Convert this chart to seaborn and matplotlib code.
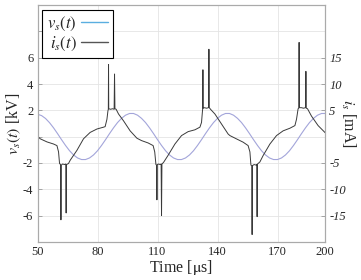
import numpy as np
import pandas as pd
import matplotlib
matplotlib.use("Agg")
import matplotlib.pyplot as plt
from matplotlib.lines import Line2D
import seaborn as sns

# Voltage v_s(t) [kV], sampled every 2 us
volt_time = [50, 52, 54, 56, 58, 60, 62, 64, 66, 68, 70, 72, 74, 76, 78, 80, 82, 84, 86, 88,
             90, 92, 94, 96, 98, 100, 102, 104, 106, 108, 110, 112, 114, 116, 118, 120, 122, 124,
             126, 128, 130, 132, 134, 136, 138, 140, 142, 144, 146, 148, 150, 152, 154, 156, 158,
             160, 162, 164, 166, 168, 170, 172, 174, 176, 178, 180, 182, 184, 186, 188, 190, 192, 194]
volt_kv = [1.70, 1.60, 1.38, 1.06, 0.67, 0.23, -0.23, -0.67, -1.07, -1.39, -1.62, -1.74,
           -1.74, -1.62, -1.39, -1.07, -0.67, -0.23, 0.23, 0.67, 1.07, 1.39, 1.63, 1.76,
           1.76, 1.63, 1.39, 1.07, 0.67, 0.23, -0.23, -0.67, -1.07, -1.39, -1.62, -1.74,
           -1.74, -1.62, -1.39, -1.07, -0.67, -0.23, 0.23, 0.67, 1.07, 1.39, 1.63, 1.76,
           1.76, 1.63, 1.39, 1.07, 0.67, 0.23, -0.23, -0.67, -1.07, -1.39, -1.62, -1.74,
           -1.74, -1.62, -1.39, -1.07, -0.67, -0.23, 0.23, 0.67, 1.07, 1.39, 1.63, 1.76, 1.76]

# Current i_s(t) [mA]
curr_time = [50, 51.3, 54.7, 58, 59.7, 60.5, 61.0, 61.5, 61.7, 61.9, 62.5, 63.5, 64.1, 64.3, 64.5,
             65.5, 66.3, 69.7, 73, 76.3, 79.7, 83, 83.8, 84.7, 85.2, 85.4, 85.5, 85.6, 86.5, 87.5,
             88.3, 88.5, 88.7, 89.3, 90.5, 93, 96.3, 99.7,
             102, 105.3, 107.8, 108.6, 109.2, 109.5, 109.7, 109.9, 110.5, 111.3, 111.8, 112.0, 112.2,
             113, 115.2, 118.7, 122, 125.3, 128.7, 131.2, 132, 132.5, 132.6, 132.7, 132.8, 133.5,
             134.5, 135.5, 135.7, 135.9, 136.5, 138.7, 142, 145.3,
             146.2, 149.5, 152.8, 155.3, 156.2, 156.7, 157.1, 157.3, 157.5, 158.3, 159.2, 159.6,
             159.8, 160.0, 161.2, 162.8, 166.2, 169.5, 172.8, 176.2, 178.7, 179.5, 180.3, 180.6,
             180.8, 181.0, 182, 183, 184, 184.2, 184.4, 185, 187, 190.3, 193.7, 195]
curr_ma = [0.1, -0.4, -1.0, -1.4, -1.7, -2.9, -5.1, -5.3, -15.8, -5.4, -5.2, -5.3, -5.2, -14.5, -5.3,
           -5.1, -4.5, -2.6, -0.4, 0.8, 1.45, 1.8, 1.9, 3.3, 4.9, 5.2, 13.7, 5.3, 5.2, 5.3,
           5.2, 11.9, 5.3, 5.2, 4.3, 3.0, 1.1, -0.3,
           -0.75, -1.2, -1.7, -2.9, -5.3, -5.4, -12.0, -5.3, -5.2, -5.3, -5.2, -15.0, -5.2,
           -4.9, -3.6, -1.4, 0.2, 0.95, 1.3, 1.8, 2.7, 5.0, 5.3, 12.7, 5.4, 5.5,
           5.4, 5.5, 16.6, 5.5, 5.2, 4.3, 2.4, 0.5,
           0.2, -0.43, -1.05, -1.7, -2.9, -5.4, -5.5, -18.6, -5.5, -5.3, -5.4, -5.3,
           -15.2, -5.2, -4.8, -3.6, -1.4, 0.2, 1.1, 1.6, 2.1, 3.3, 5.3, 5.4,
           17.9, 5.5, 5.5, 5.4, 5.5, 12.4, 5.4, 5.3, 3.9, 2.1, 0.8, 0.3]

x_ticks = [50, 80, 110, 140, 170, 193.7]
x_tick_labels = ["50", "80", "110", "140", "170", "200"]
left_ticks = [-8, -6, -4, -2, 0, 2, 4, 6, 8, 10]
left_tick_labels = ["", "-6", "-4", "-2", "", "2", "4", "6", "", ""]
right_ticks = [-15, -10, -5, 5, 10, 15]
right_tick_labels = ["-15", "-10", "-5", "5", "10", "15"]

sns.set_style("white")
plt.rcParams['font.family'] = ['Liberation Serif', 'DejaVu Serif']
plt.rcParams['mathtext.fontset'] = 'stix'

volt_df = pd.DataFrame({'t': volt_time, 'v': volt_kv})
curr_df = pd.DataFrame({'t': curr_time, 'i': curr_ma})

fig = plt.figure(figsize=(3.61, 2.80), dpi=100)
ax = fig.add_axes([0.104, 0.136, 0.796, 0.846])
ax2 = ax.twinx()

sns.lineplot(data=volt_df, x='t', y='v', ax=ax, color='#a3a5da', lw=0.8, estimator=None, sort=False)
sns.lineplot(data=curr_df, x='t', y='i', ax=ax2, color='#3a3a3a', lw=0.7, estimator=None, sort=False)

ax.set_xlim(50, 193.7)
ax.set_ylim(-8, 10)
ax2.set_ylim(-20, 25)

ax.set_xticks(x_ticks)
ax.set_xticklabels(x_tick_labels)
ax.set_yticks(left_ticks)
ax.set_yticklabels(left_tick_labels)
ax2.set_yticks(right_ticks)
ax2.set_yticklabels(right_tick_labels, fontstyle='italic')

ax.grid(True, color='#e4e4e4', lw=0.6)
ax2.grid(False)
for a in (ax, ax2):
    a.tick_params(direction='in', length=3, width=0.6, color='#999999', labelsize=9, pad=3)
    for s in a.spines.values():
        s.set_color('#aaaaaa')
        s.set_linewidth(0.8)

ax.set_xlabel('Time [$\\mathrm{\\mu}$s]', fontsize=11.5, labelpad=0)
ax.set_ylabel('$v_s(t)$ [kV]', fontsize=11.5, labelpad=0)
ax2.set_ylabel('$i_s$ [mA]', fontsize=11.5, rotation=270, labelpad=8)

handles = [Line2D([], [], color='#5aaee0', lw=1.0), Line2D([], [], color='#555555', lw=1.0)]
leg = ax.legend(handles, ['$v_s(t)$', '$i_s(t)$'], loc='upper left', bbox_to_anchor=(0.015, 0.98),
                borderaxespad=0, markerfirst=False, fancybox=False, framealpha=1,
                edgecolor='black', fontsize=12, handlelength=1.6, handletextpad=0.3,
                labelspacing=0.1, borderpad=0.3)
leg.get_frame().set_linewidth(0.8)

fig.savefig('out.png', dpi=100)
